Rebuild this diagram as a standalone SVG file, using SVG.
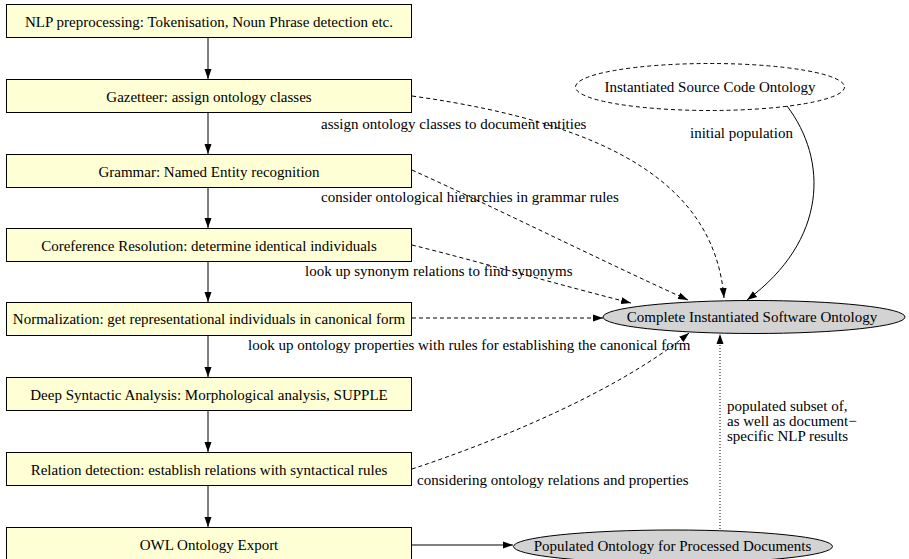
<svg xmlns="http://www.w3.org/2000/svg" width="909" height="559" viewBox="0 0 909 559">
<style>
text{font-family:"Liberation Serif","Times New Roman","DejaVu Serif",serif;font-size:15px;fill:#000}
.box{fill:#ffffd5;stroke:#000;stroke-width:1}
.c{text-anchor:middle}
.e{stroke:#000;stroke-width:1;fill:none}
.dash{stroke-dasharray:4,3}
.dot{stroke-dasharray:1,2}
</style>
<defs>
<marker id="ah" markerWidth="10" markerHeight="8" refX="10" refY="4" orient="auto" markerUnits="userSpaceOnUse">
<path d="M0,0.5 L10,4 L0,7.5 z" fill="#000"/>
</marker>
</defs>
<rect width="909" height="559" fill="#fff"/>
<g id="n1"><rect class="box" x="6.5" y="4.5" width="405" height="33"/><text class="c" x="209" y="26.5">NLP preprocessing: Tokenisation, Noun Phrase detection etc.</text></g>
<g id="n2"><rect class="box" x="6.5" y="79.5" width="405" height="33"/><text class="c" x="209" y="101.5">Gazetteer: assign ontology classes</text></g>
<g id="n3"><rect class="box" x="6.5" y="154.5" width="405" height="33"/><text class="c" x="209" y="176.5">Grammar: Named Entity recognition</text></g>
<g id="n4"><rect class="box" x="6.5" y="228.5" width="405" height="33"/><text class="c" x="209" y="250.5">Coreference Resolution: determine identical individuals</text></g>
<g id="n5"><rect class="box" x="6.5" y="302.5" width="405" height="33"/><text class="c" x="209" y="324">Normalization: get representational individuals in canonical form</text></g>
<g id="n6"><rect class="box" x="6.5" y="377.5" width="405" height="33"/><text class="c" x="209" y="399.5">Deep Syntactic Analysis: Morphological analysis, SUPPLE</text></g>
<g id="n7"><rect class="box" x="6.5" y="452.5" width="405" height="33"/><text class="c" x="209" y="474.5">Relation detection: establish relations with syntactical rules</text></g>
<g id="n8"><rect class="box" x="6.5" y="527.5" width="405" height="33"/><text class="c" x="209" y="550">OWL Ontology Export</text></g>
<g id="src"><ellipse cx="710" cy="87" rx="134.5" ry="23.5" fill="#fff" stroke="#000" stroke-dasharray="4,3"/><text class="c" x="710" y="92">Instantiated Source Code Ontology</text></g>
<g id="complete"><ellipse cx="754" cy="317" rx="151" ry="16.5" fill="#d3d3d3" stroke="#000"/><text class="c" x="752" y="322">Complete Instantiated Software Ontology</text></g>
<g id="populated"><ellipse cx="673" cy="546.5" rx="159.5" ry="16.5" fill="#d3d3d3" stroke="#000"/><text class="c" x="672.5" y="551">Populated Ontology for Processed Documents</text></g>
<g id="connectors">
<line class="e" x1="208" y1="37" x2="208" y2="79" marker-end="url(#ah)"/>
<line class="e" x1="208" y1="112" x2="208" y2="154" marker-end="url(#ah)"/>
<line class="e" x1="208" y1="187" x2="208" y2="228" marker-end="url(#ah)"/>
<line class="e" x1="208" y1="261" x2="208" y2="302" marker-end="url(#ah)"/>
<line class="e" x1="208" y1="335" x2="208" y2="377" marker-end="url(#ah)"/>
<line class="e" x1="208" y1="410" x2="208" y2="452" marker-end="url(#ah)"/>
<line class="e" x1="208" y1="485" x2="208" y2="527" marker-end="url(#ah)"/>
<path class="e dash" d="M412,96 C620,125 715,190 724,298" marker-end="url(#ah)"/>
<path class="e dash" d="M412,170 C500,210 600,260 688,300" marker-end="url(#ah)"/>
<path class="e dash" d="M412,245 C480,262 560,285 631,303" marker-end="url(#ah)"/>
<line class="e dash" x1="412" y1="318" x2="603" y2="318" marker-end="url(#ah)"/>
<path class="e dash" d="M412,469 C500,440 620,390 689,333" marker-end="url(#ah)"/>
<path class="e" d="M787,106 C828,160 828,240 747,300" marker-end="url(#ah)"/>
<line class="e dot" x1="720" y1="529" x2="720" y2="334" marker-end="url(#ah)"/>
<line class="e" x1="412" y1="545" x2="513" y2="545" marker-end="url(#ah)"/>
<text x="321" y="128.5">assign ontology classes to document entities</text>
<text x="321" y="202">consider ontological hierarchies in grammar rules</text>
<text x="305" y="276">look up synonym relations to find synonyms</text>
<text x="248" y="350">look up ontology properties with rules for establishing the canonical form</text>
<text x="417" y="485">considering ontology relations and properties</text>
<text x="690" y="137.5">initial population</text>
<text x="727" y="411">populated subset of,</text>
<text x="727" y="426">as well as document−</text>
<text x="727" y="441">specific NLP results</text>
</g>
</svg>
